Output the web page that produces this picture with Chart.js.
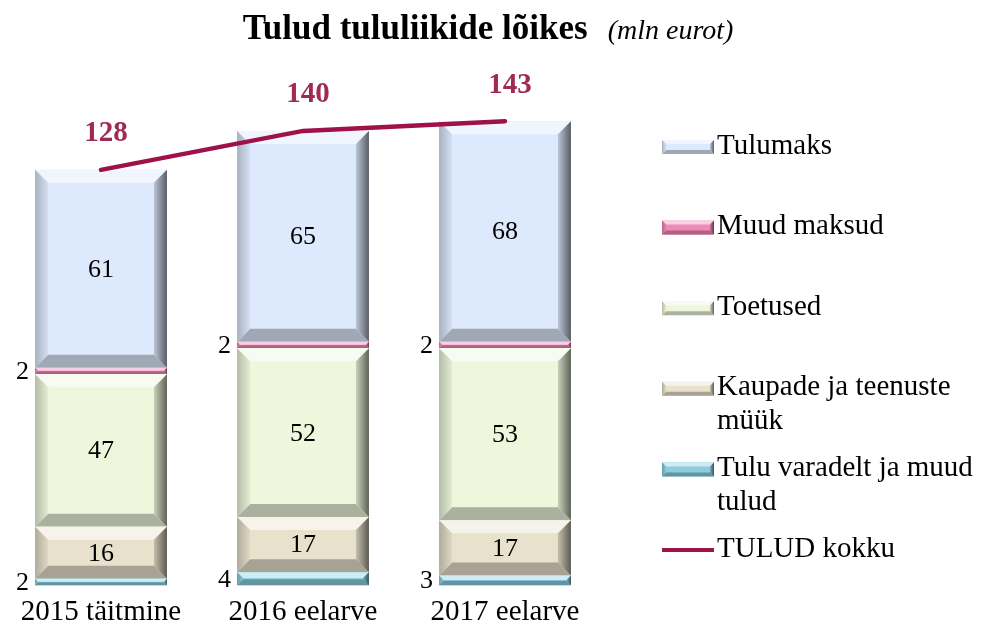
<!DOCTYPE html>
<html><head><meta charset="utf-8">
<script src="https://cdn.jsdelivr.net/npm/chart.js@4.4.1/dist/chart.umd.min.js"></script>
<style>html,body{margin:0;padding:0;background:#fff;overflow:hidden}#wrap{width:983px;height:633px}</style>
</head><body><div id="wrap"><canvas id="c" width="983" height="633"></canvas></div>
<script>
// ---- data ----
const categories = ['2015 täitmine', '2016 eelarve', '2017 eelarve'];
const tuluVaradelt = [2, 4, 3];
const kaupadeMyyk = [16, 17, 17];
const toetused = [47, 52, 53];
const muudMaksud = [2, 2, 2];
const tulumaks = [61, 65, 68];
const tuludKokku = [128, 140, 143];
const barNames = ['Tulu varadelt ja muud tulud', 'Kaupade ja teenuste müük', 'Toetused', 'Muud maksud', 'Tulumaks'];
const lineName = 'TULUD kokku';
const legendLines = {
  'Tulumaks': ['Tulumaks'],
  'Muud maksud': ['Muud maksud'],
  'Toetused': ['Toetused'],
  'Kaupade ja teenuste müük': ['Kaupade ja teenuste', 'müük'],
  'Tulu varadelt ja muud tulud': ['Tulu varadelt ja muud', 'tulud'],
  'TULUD kokku': ['TULUD kokku']
};
const titleMain = 'Tulud tululiikide lõikes';
const titleUnit = '(mln eurot)';

// ---- styles ----
const barColors = ['#8ccde0', '#e8e1cc', '#eef6dc', '#f088b8', '#dde9fc'];
const lineColor = '#9e1149';
const totalLabelColor = '#a02a52';
const SERIF = '"Liberation Serif", "Times New Roman", serif';

function rgbOf(hex) { return [1, 3, 5].map(i => parseInt(hex.slice(i, i + 2), 16)); }
function shade(hex, f) {
  const c = rgbOf(hex).map(v => f < 0 ? Math.round(v * (1 + f)) : Math.round(v + (255 - v) * f));
  return `rgb(${c[0]},${c[1]},${c[2]})`;
}
function poly(ctx, pts, fill) {
  ctx.beginPath(); ctx.moveTo(pts[0][0], pts[0][1]);
  for (let i = 1; i < pts.length; i++) ctx.lineTo(pts[i][0], pts[i][1]);
  ctx.closePath(); ctx.fillStyle = fill; ctx.fill();
}
function bevelRect(ctx, l, t, w, h, base, bMax) {
  if (h <= 0 || w <= 0) return;
  const b = Math.min(bMax, h / 2.2, w / 2.2);
  const r = l + w, bt = t + h;
  ctx.save();
  ctx.fillStyle = base; ctx.fillRect(l, t, w, h);
  poly(ctx, [[l, t], [r, t], [r - b, t + b], [l + b, t + b]], shade(base, 0.6));
  poly(ctx, [[l, bt], [r, bt], [r - b, bt - b], [l + b, bt - b]], shade(base, -0.28));
  let g = ctx.createLinearGradient(l, 0, l + b, 0);
  g.addColorStop(0, shade(base, -0.24)); g.addColorStop(1, shade(base, -0.04));
  poly(ctx, [[l, t], [l + b, t + b], [l + b, bt - b], [l, bt]], g);
  g = ctx.createLinearGradient(r - b, 0, r, 0);
  g.addColorStop(0, shade(base, -0.15)); g.addColorStop(1, shade(base, -0.6));
  poly(ctx, [[r, t], [r - b, t + b], [r - b, bt - b], [r, bt]], g);
  ctx.restore();
}

const barSeries = [tuluVaradelt, kaupadeMyyk, toetused, muudMaksud, tulumaks];
const datasets = barSeries.map((d, i) => ({
  type: 'bar', label: barNames[i], data: d, backgroundColor: barColors[i],
  borderWidth: 0, stack: 'bars', order: 2,
  categoryPercentage: 1, barPercentage: 0.653
}));
datasets.push({
  type: 'line', label: lineName, data: tuludKokku, borderColor: lineColor,
  borderWidth: 4.5, pointRadius: 0, tension: 0, stack: 'total', order: 1,
  borderCapStyle: 'round', fill: false
});

const bevelPlugin = {
  id: 'bevel',
  afterDatasetDraw(chart, args) {
    const ds = chart.data.datasets[args.index];
    if (ds.type !== 'bar') return;
    const ctx = chart.ctx;
    args.meta.data.forEach(el => {
      const p = el.getProps(['x', 'y', 'base', 'width'], true);
      const top = Math.min(p.y, p.base), h = Math.abs(p.base - p.y);
      bevelRect(ctx, p.x - p.width / 2, top, p.width, h, ds.backgroundColor, 13);
    });
  }
};

const labelsPlugin = {
  id: 'vlabels',
  afterDatasetsDraw(chart) {
    const ctx = chart.ctx;
    ctx.save();
    chart.data.datasets.forEach((ds, di) => {
      const meta = chart.getDatasetMeta(di);
      meta.data.forEach((el, i) => {
        const v = ds.data[i];
        if (ds.type === 'bar') {
          const p = el.getProps(['x', 'y', 'base', 'width'], true);
          const cy = (p.y + p.base) / 2;
          ctx.font = '26px ' + SERIF; ctx.fillStyle = '#000'; ctx.textBaseline = 'middle';
          if (v >= 10) { ctx.textAlign = 'center'; ctx.fillText(String(v), p.x, cy + 1); }
          else { ctx.textAlign = 'right'; ctx.fillText(String(v), p.x - p.width / 2 - 6, cy + 1); }
        } else {
          const p = el.getProps(['x', 'y'], true);
          ctx.font = 'bold 29px ' + SERIF; ctx.fillStyle = totalLabelColor;
          ctx.textAlign = 'center'; ctx.textBaseline = 'middle';
          ctx.fillText(String(v), p.x + 5, p.y - 36);
        }
      });
    });
    ctx.restore();
  }
};

const titleLegendPlugin = {
  id: 'titleLegend',
  afterDraw(chart) {
    const ctx = chart.ctx;
    ctx.save();
    // title
    ctx.textBaseline = 'alphabetic'; ctx.textAlign = 'left'; ctx.fillStyle = '#000';
    ctx.font = 'bold 35px ' + SERIF;
    const w1 = ctx.measureText(titleMain).width;
    ctx.font = 'italic 28px ' + SERIF;
    const w2 = ctx.measureText(titleUnit).width;
    const gap = 20;
    const x0 = 488 - (w1 + gap + w2) / 2;
    ctx.font = 'bold 35px ' + SERIF;
    ctx.fillText(titleMain, x0, 39);
    ctx.font = 'italic 28px ' + SERIF;
    ctx.fillText(titleUnit, x0 + w1 + gap, 39);
    // legend
    const order = [4, 3, 2, 1, 0, 5];
    const mx = 662, mw = 52, tx = 717, y0 = 146, step = 80.6, lh = 34;
    order.forEach((di, k) => {
      const ds = chart.data.datasets[di];
      const y = y0 + k * step;
      if (ds.type === 'bar') bevelRect(ctx, mx, y - 6, mw, 14, ds.backgroundColor, 4);
      else { ctx.strokeStyle = ds.borderColor; ctx.lineWidth = 4; ctx.beginPath(); ctx.moveTo(mx, y + 1); ctx.lineTo(mx + mw, y + 1); ctx.stroke(); }
      ctx.font = '29px ' + SERIF; ctx.fillStyle = '#000'; ctx.textAlign = 'left'; ctx.textBaseline = 'middle';
      legendLines[ds.label].forEach((ln, j) => ctx.fillText(ln, tx, y + j * lh));
    });
    ctx.restore();
  }
};

new Chart(document.getElementById('c'), {
  data: { labels: categories, datasets },
  options: {
    responsive: false, animation: false, devicePixelRatio: 1,
    layout: { padding: { left: 0, right: 377, top: 66, bottom: -7 } },
    plugins: { legend: { display: false }, title: { display: false }, tooltip: { enabled: false } },
    scales: {
      x: {
        stacked: true,
        grid: { display: false, drawTicks: false }, border: { display: false },
        ticks: { color: '#000', font: { family: SERIF, size: 29 }, padding: 10 }
      },
      y: { stacked: true, display: false, min: 0, max: 160 }
    }
  },
  plugins: [bevelPlugin, labelsPlugin, titleLegendPlugin]
});
</script>
</body></html>
